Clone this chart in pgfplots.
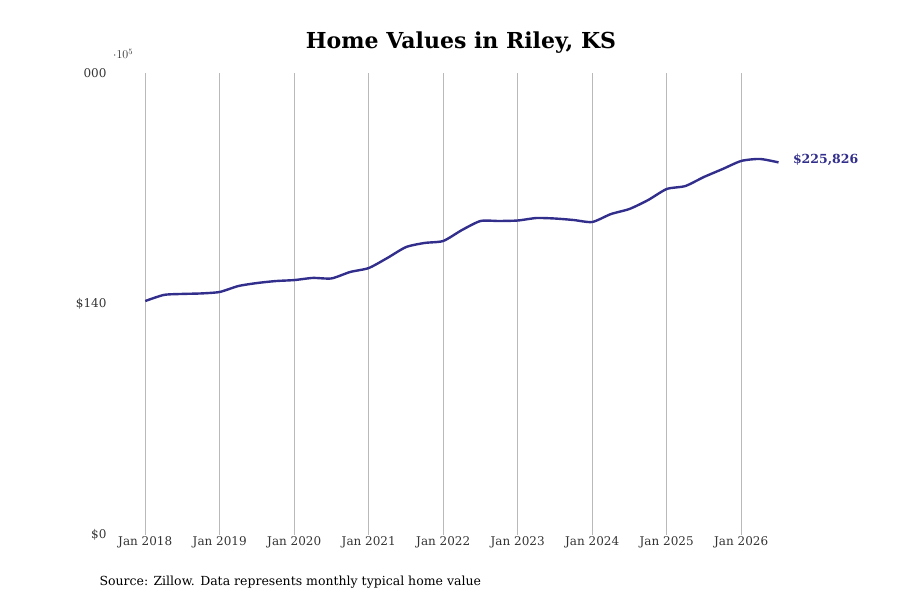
\documentclass[border=0pt]{standalone}
\usepackage{pgfplots}
\pgfplotsset{compat=1.18}
\usepackage{fontspec}
\setmainfont{DejaVu Serif}
\definecolor{ln}{RGB}{50,46,140}
\begin{document}
\begin{tikzpicture}[x=1pt,y=1pt]
\begin{axis}[at={(108pt,65pt)},anchor=south west,scale only axis,
 width=745pt,height=462pt,xmin=2017.5,xmax=2027.5,ymin=0,ymax=280000,
 axis line style={draw=none},major tick length=0pt,xtick={2018,...,2026},
 xticklabels={Jan 2018,Jan 2019,Jan 2020,Jan 2021,Jan 2022,Jan 2023,Jan 2024,Jan 2025,Jan 2026},
 ytick={0,140000,280000},yticklabels={\$0,\$140,000,\$280,000},
 xmajorgrids,grid style={gray!55,line width=0.6pt},
 tick label style={font=\fontsize{12}{14}\selectfont,text=black!80},
 xticklabel style={yshift=2pt},yticklabel style={xshift=2pt},
 clip=false]
\addplot[ln,line width=2.4pt,smooth,tension=0.4] coordinates {
(2018.0,141800)(2018.25,145500)(2018.5,146100)(2018.75,146400)(2019.0,147300)
(2019.25,150900)(2019.5,152700)(2019.75,153900)(2020.0,154500)(2020.25,155800)
(2020.5,155500)(2020.75,159400)(2021.0,161800)(2021.25,167900)(2021.5,174500)
(2021.75,177000)(2022.0,178200)(2022.25,184800)(2022.5,190300)(2022.75,190300)
(2023.0,190600)(2023.25,192100)(2023.5,191800)(2023.75,190900)(2024.0,189700)
(2024.25,194500)(2024.5,197600)(2024.75,203000)(2025.0,209700)(2025.25,211500)
(2025.5,217000)(2025.75,221800)(2026.0,226700)(2026.25,227900)(2026.5,225826)}
 node[anchor=west,xshift=10pt,yshift=3pt,font=\fontsize{12.5}{14}\selectfont\bfseries,text=ln]{\$225,826};
\end{axis}
\node[font=\fontsize{22}{26}\selectfont\bfseries] at (461pt,557pt) {Home Values in Riley, KS};
\node[anchor=west,font=\fontsize{12.5}{14}\selectfont] at (96pt,18pt) {Source: Zillow. Data represents monthly typical home value};
\pgfresetboundingbox
\useasboundingbox (0,0) rectangle (900pt,600pt);
\end{tikzpicture}
\end{document}
